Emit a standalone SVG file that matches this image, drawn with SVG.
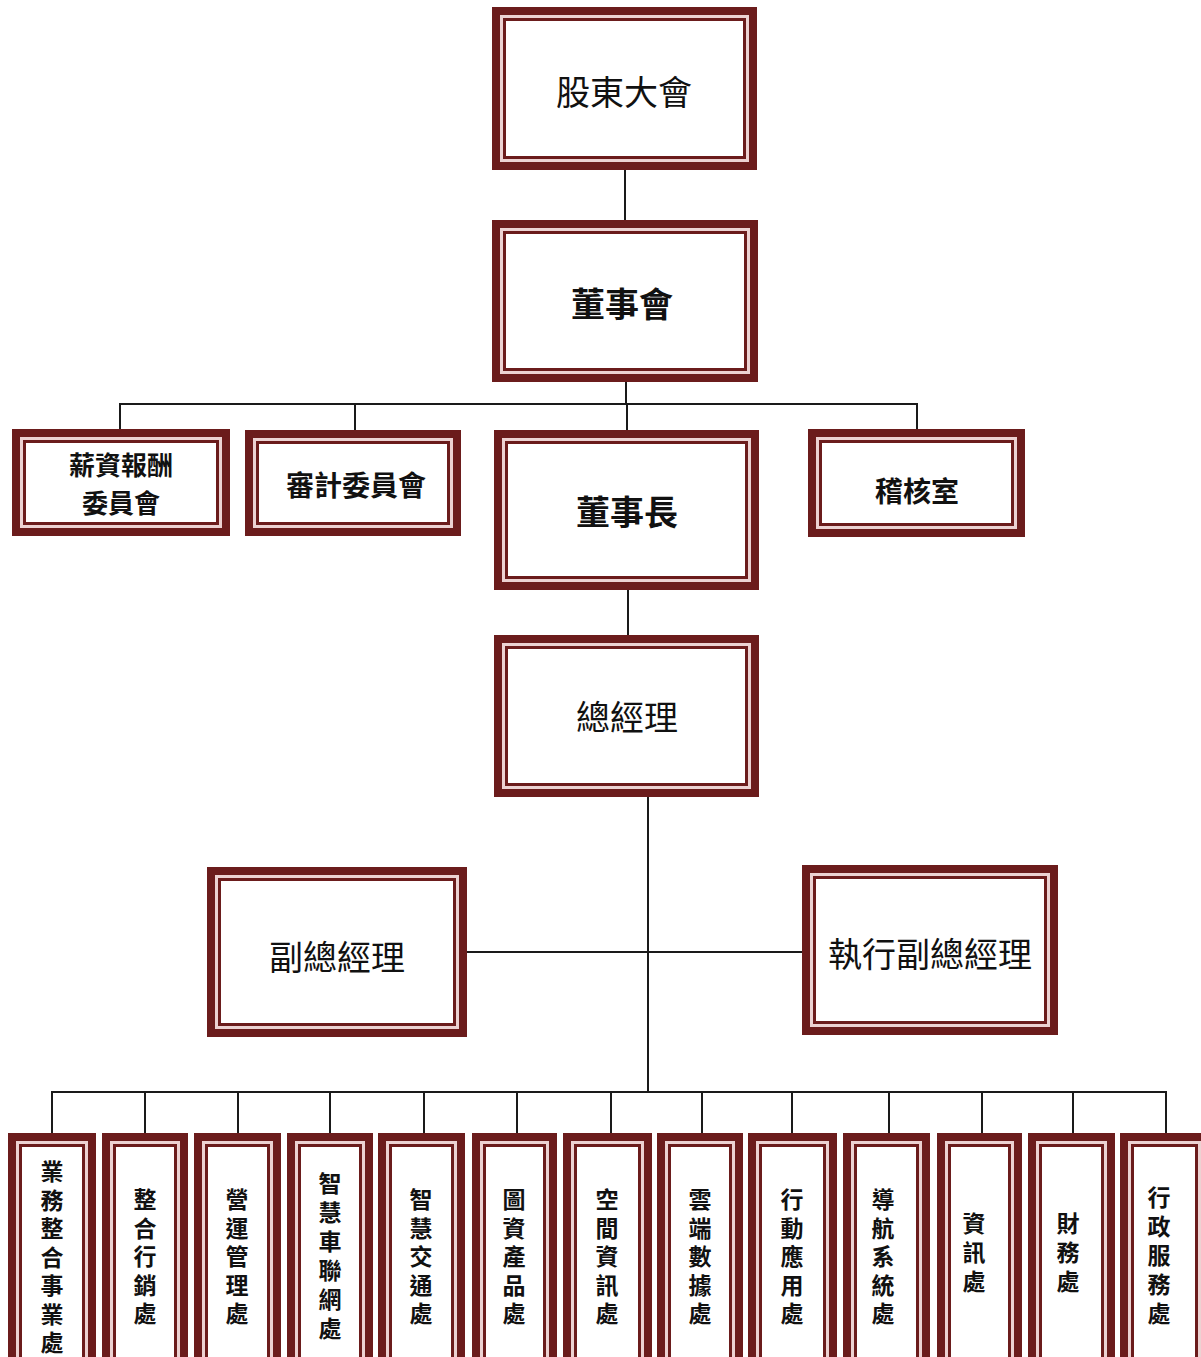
<svg xmlns="http://www.w3.org/2000/svg" width="1201" height="1357" viewBox="0 0 1201 1357">
<style>
.o{fill:#6b1c1c}
.g{fill:#ecd2d2}
.w{fill:#ffffff}
.t{font-family:"Noto Sans CJK TC","Noto Sans CJK SC",sans-serif;fill:#111;text-anchor:middle;dominant-baseline:central}
.big{font-size:34px}
.mid{font-size:28px;font-weight:bold}
.two{font-size:26px;font-weight:bold}
.bold{font-weight:bold}
.sm{font-size:23px;font-weight:bold}
.c line{stroke:#1a1a1a;stroke-width:2}
</style>
<rect x="0" y="0" width="1201" height="1357" fill="#ffffff"/>
<g class="c" id="connectors">
<line x1="625" y1="170" x2="625" y2="220"/>
<line x1="626" y1="382" x2="626" y2="404"/>
<line x1="119" y1="404" x2="918" y2="404"/>
<line x1="120" y1="404" x2="120" y2="429"/>
<line x1="355" y1="404" x2="355" y2="430"/>
<line x1="627" y1="404" x2="627" y2="430"/>
<line x1="917" y1="404" x2="917" y2="429"/>
<line x1="628" y1="590" x2="628" y2="635"/>
<line x1="648" y1="797" x2="648" y2="1092"/>
<line x1="467" y1="952" x2="802" y2="952"/>
<line x1="51" y1="1092" x2="1167" y2="1092"/>
<line x1="52" y1="1092" x2="52" y2="1133"/>
<line x1="145" y1="1092" x2="145" y2="1133"/>
<line x1="238" y1="1092" x2="238" y2="1133"/>
<line x1="330" y1="1092" x2="330" y2="1133"/>
<line x1="424" y1="1092" x2="424" y2="1133"/>
<line x1="517" y1="1092" x2="517" y2="1133"/>
<line x1="611" y1="1092" x2="611" y2="1133"/>
<line x1="702" y1="1092" x2="702" y2="1133"/>
<line x1="792" y1="1092" x2="792" y2="1133"/>
<line x1="889" y1="1092" x2="889" y2="1133"/>
<line x1="982" y1="1092" x2="982" y2="1133"/>
<line x1="1073" y1="1092" x2="1073" y2="1133"/>
<line x1="1166" y1="1092" x2="1166" y2="1133"/>
</g>
<g id="n-shareholders">
<rect class="o" x="492" y="7" width="265" height="163"/><rect class="g" x="500" y="15" width="249" height="147"/><rect class="o" x="503" y="18" width="243" height="141"/><rect class="w" x="506" y="21" width="237" height="135"/>
<text class="t big" x="624" y="90">股東大會</text>
</g>
<g id="n-board">
<rect class="o" x="492" y="220" width="266" height="162"/><rect class="g" x="500" y="228" width="250" height="146"/><rect class="o" x="503" y="231" width="244" height="140"/><rect class="w" x="506" y="234" width="238" height="134"/>
<text class="t big bold" x="622" y="302">董事會</text>
</g>
<g id="n-comp">
<rect class="o" x="12" y="429" width="218" height="107"/><rect class="g" x="20" y="437" width="202" height="91"/><rect class="o" x="23" y="440" width="196" height="85"/><rect class="w" x="26" y="443" width="190" height="79"/>
<text class="t two" x="121" y="463">薪資報酬</text>
<text class="t two" x="121" y="501">委員會</text>
</g>
<g id="n-audit">
<rect class="o" x="245" y="430" width="216" height="106"/><rect class="g" x="253" y="438" width="200" height="90"/><rect class="o" x="256" y="441" width="194" height="84"/><rect class="w" x="259" y="444" width="188" height="78"/>
<text class="t mid" x="356" y="484">審計委員會</text>
</g>
<g id="n-chair">
<rect class="o" x="494" y="430" width="265" height="160"/><rect class="g" x="502" y="438" width="249" height="144"/><rect class="o" x="505" y="441" width="243" height="138"/><rect class="w" x="508" y="444" width="237" height="132"/>
<text class="t big bold" x="627" y="510">董事長</text>
</g>
<g id="n-internal-audit">
<rect class="o" x="808" y="429" width="217" height="108"/><rect class="g" x="816" y="437" width="201" height="92"/><rect class="o" x="819" y="440" width="195" height="86"/><rect class="w" x="822" y="443" width="189" height="80"/>
<text class="t mid" x="917" y="490">稽核室</text>
</g>
<g id="n-gm">
<rect class="o" x="494" y="635" width="265" height="162"/><rect class="g" x="502" y="643" width="249" height="146"/><rect class="o" x="505" y="646" width="243" height="140"/><rect class="w" x="508" y="649" width="237" height="134"/>
<text class="t big" x="627" y="715">總經理</text>
</g>
<g id="n-vgm">
<rect class="o" x="207" y="867" width="260" height="170"/><rect class="g" x="215" y="875" width="244" height="154"/><rect class="o" x="218" y="878" width="238" height="148"/><rect class="w" x="221" y="881" width="232" height="142"/>
<text class="t big" x="337" y="955">副總經理</text>
</g>
<g id="n-evgm">
<rect class="o" x="802" y="865" width="256" height="170"/><rect class="g" x="810" y="873" width="240" height="154"/><rect class="o" x="813" y="876" width="234" height="148"/><rect class="w" x="816" y="879" width="228" height="142"/>
<text class="t big" x="930" y="952">執行副總經理</text>
</g>
<g id="d1">
<rect class="o" x="8" y="1133" width="88" height="240"/><rect class="g" x="16" y="1141" width="72" height="224"/><rect class="o" x="19" y="1144" width="66" height="218"/><rect class="w" x="22" y="1147" width="60" height="212"/>
<text class="t sm"><tspan x="52" y="1170">業</tspan><tspan x="52" y="1198.5">務</tspan><tspan x="52" y="1227">整</tspan><tspan x="52" y="1255.5">合</tspan><tspan x="52" y="1284">事</tspan><tspan x="52" y="1312.5">業</tspan><tspan x="52" y="1341">處</tspan></text>
</g>
<g id="d2">
<rect class="o" x="102" y="1133" width="86" height="240"/><rect class="g" x="110" y="1141" width="70" height="224"/><rect class="o" x="113" y="1144" width="64" height="218"/><rect class="w" x="116" y="1147" width="58" height="212"/>
<text class="t sm"><tspan x="145" y="1198">整</tspan><tspan x="145" y="1226.5">合</tspan><tspan x="145" y="1255">行</tspan><tspan x="145" y="1283.5">銷</tspan><tspan x="145" y="1312">處</tspan></text>
</g>
<g id="d3">
<rect class="o" x="194" y="1133" width="87" height="240"/><rect class="g" x="202" y="1141" width="71" height="224"/><rect class="o" x="205" y="1144" width="65" height="218"/><rect class="w" x="208" y="1147" width="59" height="212"/>
<text class="t sm"><tspan x="237" y="1198">營</tspan><tspan x="237" y="1226.5">運</tspan><tspan x="237" y="1255">管</tspan><tspan x="237" y="1283.5">理</tspan><tspan x="237" y="1312">處</tspan></text>
</g>
<g id="d4">
<rect class="o" x="287" y="1133" width="86" height="240"/><rect class="g" x="295" y="1141" width="70" height="224"/><rect class="o" x="298" y="1144" width="64" height="218"/><rect class="w" x="301" y="1147" width="58" height="212"/>
<text class="t sm"><tspan x="330" y="1182">智</tspan><tspan x="330" y="1211">慧</tspan><tspan x="330" y="1240">車</tspan><tspan x="330" y="1269">聯</tspan><tspan x="330" y="1298">網</tspan><tspan x="330" y="1327">處</tspan></text>
</g>
<g id="d5">
<rect class="o" x="378" y="1133" width="87" height="240"/><rect class="g" x="386" y="1141" width="71" height="224"/><rect class="o" x="389" y="1144" width="65" height="218"/><rect class="w" x="392" y="1147" width="59" height="212"/>
<text class="t sm"><tspan x="421" y="1198">智</tspan><tspan x="421" y="1226.5">慧</tspan><tspan x="421" y="1255">交</tspan><tspan x="421" y="1283.5">通</tspan><tspan x="421" y="1312">處</tspan></text>
</g>
<g id="d6">
<rect class="o" x="472" y="1133" width="85" height="240"/><rect class="g" x="480" y="1141" width="69" height="224"/><rect class="o" x="483" y="1144" width="63" height="218"/><rect class="w" x="486" y="1147" width="57" height="212"/>
<text class="t sm"><tspan x="514" y="1198">圖</tspan><tspan x="514" y="1226.5">資</tspan><tspan x="514" y="1255">產</tspan><tspan x="514" y="1283.5">品</tspan><tspan x="514" y="1312">處</tspan></text>
</g>
<g id="d7">
<rect class="o" x="563" y="1133" width="89" height="240"/><rect class="g" x="571" y="1141" width="73" height="224"/><rect class="o" x="574" y="1144" width="67" height="218"/><rect class="w" x="577" y="1147" width="61" height="212"/>
<text class="t sm"><tspan x="607" y="1198">空</tspan><tspan x="607" y="1226.5">間</tspan><tspan x="607" y="1255">資</tspan><tspan x="607" y="1283.5">訊</tspan><tspan x="607" y="1312">處</tspan></text>
</g>
<g id="d8">
<rect class="o" x="657" y="1133" width="86" height="240"/><rect class="g" x="665" y="1141" width="70" height="224"/><rect class="o" x="668" y="1144" width="64" height="218"/><rect class="w" x="671" y="1147" width="58" height="212"/>
<text class="t sm"><tspan x="700" y="1198">雲</tspan><tspan x="700" y="1226.5">端</tspan><tspan x="700" y="1255">數</tspan><tspan x="700" y="1283.5">據</tspan><tspan x="700" y="1312">處</tspan></text>
</g>
<g id="d9">
<rect class="o" x="748" y="1133" width="89" height="240"/><rect class="g" x="756" y="1141" width="73" height="224"/><rect class="o" x="759" y="1144" width="67" height="218"/><rect class="w" x="762" y="1147" width="61" height="212"/>
<text class="t sm"><tspan x="792" y="1198">行</tspan><tspan x="792" y="1226.5">動</tspan><tspan x="792" y="1255">應</tspan><tspan x="792" y="1283.5">用</tspan><tspan x="792" y="1312">處</tspan></text>
</g>
<g id="d10">
<rect class="o" x="843" y="1133" width="87" height="240"/><rect class="g" x="851" y="1141" width="71" height="224"/><rect class="o" x="854" y="1144" width="65" height="218"/><rect class="w" x="857" y="1147" width="59" height="212"/>
<text class="t sm"><tspan x="883" y="1198">導</tspan><tspan x="883" y="1226.5">航</tspan><tspan x="883" y="1255">系</tspan><tspan x="883" y="1283.5">統</tspan><tspan x="883" y="1312">處</tspan></text>
</g>
<g id="d11">
<rect class="o" x="937" y="1133" width="85" height="240"/><rect class="g" x="945" y="1141" width="69" height="224"/><rect class="o" x="948" y="1144" width="63" height="218"/><rect class="w" x="951" y="1147" width="57" height="212"/>
<text class="t sm"><tspan x="974" y="1222">資</tspan><tspan x="974" y="1251">訊</tspan><tspan x="974" y="1280">處</tspan></text>
</g>
<g id="d12">
<rect class="o" x="1028" y="1133" width="87" height="240"/><rect class="g" x="1036" y="1141" width="71" height="224"/><rect class="o" x="1039" y="1144" width="65" height="218"/><rect class="w" x="1042" y="1147" width="59" height="212"/>
<text class="t sm"><tspan x="1068" y="1222">財</tspan><tspan x="1068" y="1251">務</tspan><tspan x="1068" y="1280">處</tspan></text>
</g>
<g id="d13">
<rect class="o" x="1120" y="1133" width="89" height="240"/><rect class="g" x="1128" y="1141" width="73" height="224"/><rect class="o" x="1131" y="1144" width="67" height="218"/><rect class="w" x="1134" y="1147" width="61" height="212"/>
<text class="t sm"><tspan x="1159" y="1196">行</tspan><tspan x="1159" y="1225">政</tspan><tspan x="1159" y="1254">服</tspan><tspan x="1159" y="1283">務</tspan><tspan x="1159" y="1312">處</tspan></text>
</g>
</svg>
